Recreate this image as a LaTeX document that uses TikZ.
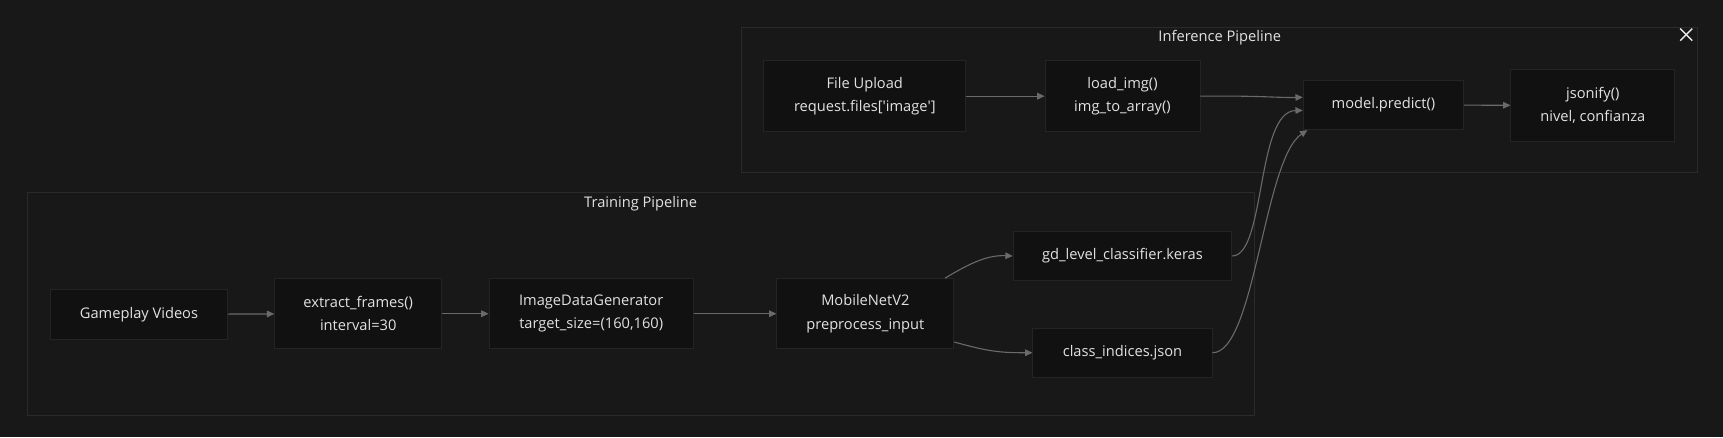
\documentclass[tikz,border=0pt]{standalone}
\usepackage{fontspec}
\setmainfont{Open Sans}
\usetikzlibrary{arrows.meta}
\definecolor{bgc}{HTML}{181818}
\definecolor{boxc}{HTML}{111111}
\definecolor{boxline}{HTML}{242424}
\definecolor{clusline}{HTML}{2A2A2A}
\definecolor{txtc}{HTML}{E2E2E2}
\definecolor{edgec}{HTML}{6A6A6A}
\begin{document}
\begin{tikzpicture}[x=0.6pt,y=-0.6pt,
    stage/.style={fill=boxc,draw=boxline,line width=0.5pt,text=txtc,align=center,
      font=\fontsize{8}{12.6}\selectfont,inner sep=0pt},
    flow/.style={draw=edgec,line width=0.6pt,-{Triangle[length=4pt,width=3.6pt]}}]
  % background, clusters
  \fill[bgc] (0,0) rectangle (1568,398);
  \draw[clusline,line width=0.6pt] (675,25) rectangle (1545,157);
  \draw[clusline,line width=0.6pt] (25,175) rectangle (1142,378);
  \node[text=txtc,font=\fontsize{8}{10}\selectfont] (tinf) at (1110,34) {Inference Pipeline};
  \node[text=txtc,font=\fontsize{8}{10}\selectfont] (ttrain) at (583,185) {Training Pipeline};
  \draw[txtc!80,line width=0.8pt] (1529,26) -- (1540,37);
  \draw[txtc!80,line width=0.8pt] (1540,26) -- (1529,37);
  % inference nodes
  \node[stage,minimum width=110.4pt,minimum height=39pt] (upload) at (787,87.5) {File Upload\\request.files[\textquotesingle image\textquotesingle]};
  \node[stage,minimum width=84.6pt,minimum height=39pt] (load) at (1021.5,87.5) {load\_img()\\img\_to\_array()};
  \node[stage,minimum width=87.6pt,minimum height=27pt] (pred) at (1259,95.5) {model.predict()};
  \node[stage,minimum width=89.4pt,minimum height=39.6pt] (json) at (1449.5,96) {jsonify()\\nivel, confianza};
  % training nodes
  \node[stage,minimum width=96.6pt,minimum height=27pt] (video) at (126.5,286) {Gameplay Videos};
  \node[stage,minimum width=91.2pt,minimum height=38.4pt] (frames) at (326,285.5) {extract\_frames()\\interval=30};
  \node[stage,minimum width=111.6pt,minimum height=38.4pt] (gen) at (538,285.5) {ImageDataGenerator\\target\_size=(160,160)};
  \node[stage,minimum width=96.6pt,minimum height=38.4pt] (mobile) at (787.5,285.5) {MobileNetV2\\preprocess\_input};
  \node[stage,minimum width=119.4pt,minimum height=27pt] (keras) at (1021.5,233) {gd\_level\_classifier.keras};
  \node[stage,minimum width=97.8pt,minimum height=27pt] (classes) at (1021.5,321) {class\_indices.json};
  % connectors
  \draw[flow] (video) -- (frames);
  \draw[flow] (frames) -- (gen);
  \draw[flow] (gen) -- (mobile);
  \draw[flow] ([xshift=-5pt]mobile.north east) .. controls (885,238) and (900,232) .. (keras.west);
  \draw[flow] ([yshift=4pt]mobile.south east) .. controls (900,320) and (910,321) .. (classes.west);
  \draw[flow] (upload) -- (load);
  \draw[flow] (load.east) .. controls (1150,87) and (1160,89) .. ([yshift=-9.6pt]pred.north west);
  \draw[flow] (keras.east) .. controls (1152,232) and (1143,101) .. ([yshift=-3pt]pred.west);
  \draw[flow] (classes.east) .. controls (1142,321) and (1150,145) .. ([xshift=2.5pt]pred.south west);
  \draw[flow] (pred) -- (json);
\end{tikzpicture}
\end{document}
